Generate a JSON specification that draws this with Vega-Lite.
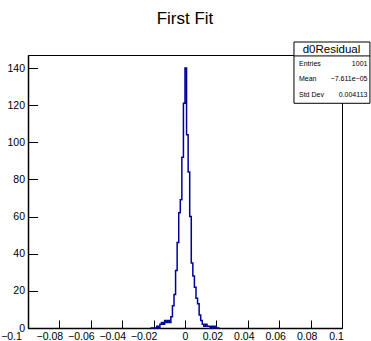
{
  "$schema": "https://vega.github.io/schema/vega-lite/v6.json",
  "width": 314,
  "height": 273,
  "autosize": {"type": "none"},
  "padding": {"left": 28, "top": 55, "right": 29, "bottom": 13},
  "background": "white",
  "config": {
    "view": {"stroke": "black", "strokeWidth": 1},
    "font": "Liberation Sans",
    "axisX": {
      "title": null,
      "values": [-0.1,-0.096,-0.092,-0.088,-0.084,-0.08,-0.076,-0.072,-0.068,-0.064,-0.06,-0.056,-0.052,-0.048,-0.044,-0.04,-0.036,-0.032,-0.028,-0.024,-0.02,-0.016,-0.012,-0.008,-0.004,0,0.004,0.008,0.012,0.016,0.02,0.024,0.028,0.032,0.036,0.04,0.044,0.048,0.052,0.056,0.06,0.064,0.068,0.072,0.076,0.08,0.084,0.088,0.092,0.096,0.1],
      "format": "~g",
      "labelExpr": "abs(datum.value*50 - round(datum.value*50)) < 0.01 ? datum.label : ''",
      "tickSize": {"condition": {"test": "abs(datum.value*50 - round(datum.value*50)) < 0.01", "value": -8}, "value": -4},
      "labelOffset": {"condition": [
        {"test": "datum.value < -0.099", "value": -17},
        {"test": "datum.value < -0.001", "value": -10},
        {"test": "datum.value > 0.099", "value": -6},
        {"test": "datum.value > 0.001", "value": -4}
      ], "value": 0},
      "labelPadding": 11,
      "tickColor": "black",
      "domainColor": "black",
      "domainWidth": 1.5,
      "labelColor": "black",
      "labelFontSize": 10.5,
      "labelOverlap": false,
      "labelFlush": false,
      "labelBound": false,
      "grid": false
    },
    "axisY": {
      "title": null,
      "values": [0,4,8,12,16,20,24,28,32,36,40,44,48,52,56,60,64,68,72,76,80,84,88,92,96,100,104,108,112,116,120,124,128,132,136,140,144],
      "labelExpr": "datum.value % 20 == 0 ? datum.label : ''",
      "tickSize": {"condition": {"test": "datum.value % 20 == 0", "value": -9.5}, "value": -4.7},
      "labelPadding": 13,
      "tickColor": "black",
      "domainColor": "black",
      "domainWidth": 1.5,
      "labelColor": "black",
      "labelFontSize": 10.5,
      "labelOverlap": false,
      "labelFlush": false,
      "labelBound": false,
      "grid": false
    }
  },
  "title": {
    "text": "First Fit",
    "fontSize": 17,
    "font": "Liberation Sans",
    "fontWeight": "normal",
    "color": "black",
    "anchor": "middle",
    "frame": "group",
    "baseline": "alphabetic",
    "offset": 1
  },
  "layer": [
    {
      "data": {
        "values": [
          {"x": -0.022, "count": 0},
          {"x": -0.021, "count": 0},
          {"x": -0.02, "count": 0},
          {"x": -0.019, "count": 0},
          {"x": -0.018, "count": 1},
          {"x": -0.017, "count": 0},
          {"x": -0.016, "count": 2},
          {"x": -0.015, "count": 3},
          {"x": -0.014, "count": 2},
          {"x": -0.013, "count": 4},
          {"x": -0.012, "count": 3},
          {"x": -0.011, "count": 4},
          {"x": -0.01, "count": 3},
          {"x": -0.009, "count": 6},
          {"x": -0.008, "count": 12},
          {"x": -0.007, "count": 18},
          {"x": -0.006, "count": 31},
          {"x": -0.005, "count": 46},
          {"x": -0.004, "count": 62},
          {"x": -0.003, "count": 69},
          {"x": -0.002, "count": 92},
          {"x": -0.001, "count": 121},
          {"x": 0.0, "count": 140},
          {"x": 0.001, "count": 104},
          {"x": 0.002, "count": 84},
          {"x": 0.003, "count": 60},
          {"x": 0.004, "count": 35},
          {"x": 0.005, "count": 28},
          {"x": 0.006, "count": 22},
          {"x": 0.007, "count": 16},
          {"x": 0.008, "count": 13},
          {"x": 0.009, "count": 7},
          {"x": 0.01, "count": 4},
          {"x": 0.011, "count": 2},
          {"x": 0.012, "count": 1},
          {"x": 0.013, "count": 2},
          {"x": 0.014, "count": 1},
          {"x": 0.015, "count": 1},
          {"x": 0.016, "count": 0},
          {"x": 0.017, "count": 1},
          {"x": 0.018, "count": 0},
          {"x": 0.019, "count": 1},
          {"x": 0.02, "count": 0},
          {"x": 0.021, "count": 0},
          {"x": 0.022, "count": 0}
        ]
      },
      "mark": {"type": "line", "interpolate": "step-after", "color": "#000099", "strokeWidth": 1.5, "clip": false},
      "encoding": {
        "x": {"field": "x", "type": "quantitative", "scale": {"domain": [-0.1, 0.1], "nice": false, "zero": false}},
        "y": {"field": "count", "type": "quantitative", "scale": {"domain": [0, 147], "nice": false}}
      }
    },
    {
      "data": {"values": [{"box": "stats"}]},
      "mark": {"type": "rect", "fill": "white", "stroke": "black", "strokeWidth": 1, "clip": false},
      "encoding": {
        "x": {"datum": 0.0694, "type": "quantitative"},
        "x2": {"datum": 0.1178},
        "y": {"datum": 121.0, "type": "quantitative"},
        "y2": {"datum": 154.0}
      }
    },
    {
      "data": {"values": [{"box": "stats"}]},
      "mark": {"type": "rule", "stroke": "black", "strokeWidth": 1, "clip": false},
      "encoding": {
        "x": {"datum": 0.0694, "type": "quantitative"},
        "x2": {"datum": 0.1178},
        "y": {"datum": 146.5, "type": "quantitative"}
      }
    },
    {
      "data": {"values": [{"name": "d0Residual"}]},
      "mark": {"type": "text", "font": "Liberation Sans", "fontSize": 11.5, "color": "black", "align": "center", "baseline": "middle", "clip": false},
      "encoding": {
        "x": {"datum": 0.0933, "type": "quantitative"},
        "y": {"datum": 149.9, "type": "quantitative"},
        "text": {"field": "name", "type": "nominal"}
      }
    },
    {
      "data": {"values": [{"labels": "Entries\nMean\nStd Dev", "vals": "1001\n−7.611e−05\n0.004113"}]},
      "mark": {"type": "text", "font": "Liberation Sans", "fontSize": 7, "color": "black", "align": "left", "baseline": "middle", "lineBreak": "\n", "lineHeight": 15.5, "clip": false},
      "encoding": {
        "x": {"datum": 0.0726, "type": "quantitative"},
        "y": {"datum": 142.2, "type": "quantitative"},
        "text": {"field": "labels", "type": "nominal"}
      }
    },
    {
      "data": {"values": [{"labels": "Entries\nMean\nStd Dev", "vals": "1001\n−7.611e−05\n0.004113"}]},
      "mark": {"type": "text", "font": "Liberation Sans", "fontSize": 7, "color": "black", "align": "right", "baseline": "middle", "lineBreak": "\n", "lineHeight": 15.5, "clip": false},
      "encoding": {
        "x": {"datum": 0.1162, "type": "quantitative"},
        "y": {"datum": 142.2, "type": "quantitative"},
        "text": {"field": "vals", "type": "nominal"}
      }
    }
  ]
}
